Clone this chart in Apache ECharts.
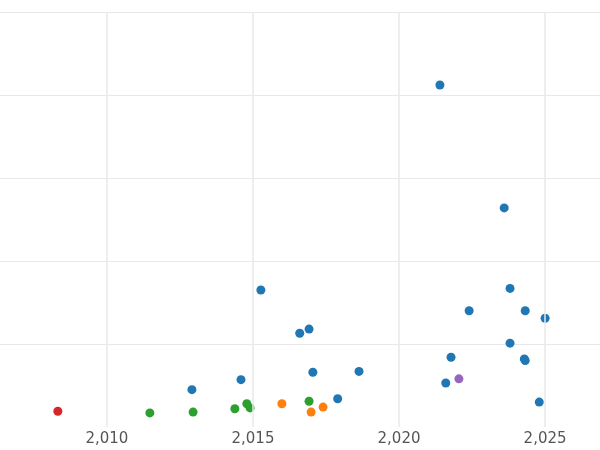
<!DOCTYPE html>
<html><head><meta charset="utf-8">
<script src="https://cdn.jsdelivr.net/npm/echarts@6/dist/echarts.min.js"></script>
<style>html,body{margin:0;padding:0;background:#fff}#c{width:600px;height:450px}</style>
</head><body><div id="c"></div>
<script>
const xTicks = [2010, 2015, 2020, 2025];
const redPts = [[2008.32, 0.19]];
const greenPts = [[2011.47, 0.17], [2012.95, 0.18], [2014.38, 0.22], [2014.79, 0.28], [2014.9, 0.23], [2016.92, 0.31]];
const orangePts = [[2015.99, 0.28], [2016.99, 0.18], [2017.4, 0.24]];
const purplePts = [[2022.05, 0.58]];
const bluePts = [[2021.4, 4.12], [2023.6, 2.64], [2015.27, 1.65], [2023.8, 1.67], [2022.4, 1.40], [2024.32, 1.40], [2025.0, 1.31], [2016.6, 1.13], [2016.92, 1.18], [2023.8, 1.01], [2021.78, 0.84], [2017.05, 0.66], [2018.63, 0.67], [2024.29, 0.82], [2024.32, 0.80], [2012.91, 0.45], [2014.59, 0.57], [2021.6, 0.53], [2017.9, 0.34], [2024.8, 0.30]];

const chart = echarts.init(document.getElementById('c'));
function s(data, color, extra) {
  return Object.assign({type: 'scatter', data, symbolSize: 9, itemStyle: {color, opacity: 1}, z: 3}, extra || {});
}
chart.setOption({
  animation: false,
  grid: {left: 0, right: 0, top: 12, bottom: 23},
  xAxis: {
    type: 'value', min: 2006.34, max: 2026.88,
    axisLine: {show: false}, axisTick: {show: false}, splitLine: {show: false},
    axisLabel: {customValues: xTicks, color: '#555', fontSize: 15, fontFamily: 'DejaVu Sans', margin: 5}
  },
  yAxis: {
    type: 'value', min: 0, max: 5, interval: 1,
    axisLine: {show: false}, axisTick: {show: false}, axisLabel: {show: false},
    splitLine: {show: true, showMinLine: false, lineStyle: {color: '#e8e8e8', width: 1}}
  },
  series: [
    s(bluePts, '#1f77b4', {markLine: {silent: true, symbol: 'none', label: {show: false},
      lineStyle: {color: '#e8e8e8', type: 'solid', width: 1.5},
      data: xTicks.map(v => ({xAxis: v}))}}),
    s(greenPts, '#2ca02c'),
    s(orangePts, '#ff7f0e'),
    s(purplePts, '#9467bd'),
    s(redPts, '#d62728')
  ]
});
</script></body></html>
